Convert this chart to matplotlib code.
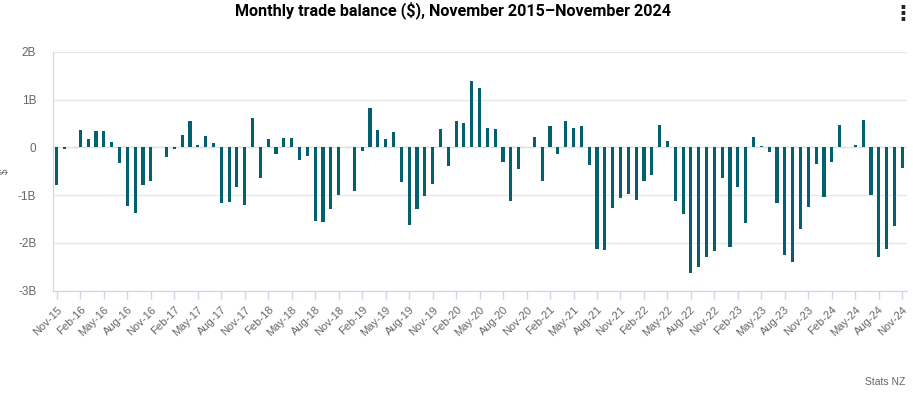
import numpy as np
import pandas as pd
import matplotlib
matplotlib.use("Agg")
import matplotlib.pyplot as plt

# monthly trade balance, $ billions, Nov 2015 - Nov 2024
balance_2015 = [-0.79, -0.03]
balance_2016 = [0.0, 0.37, 0.18, 0.34, 0.34, 0.11, -0.32, -1.23, -1.38, -0.79, -0.70, 0.0]
balance_2017 = [-0.20, -0.04, 0.26, 0.56, 0.05, 0.24, 0.09, -1.16, -1.14, -0.83, -1.21, 0.62]
balance_2018 = [-0.64, 0.18, -0.13, 0.20, 0.20, -0.26, -0.18, -1.54, -1.56, -1.29, -1.00, 0.0]
balance_2019 = [-0.91, -0.07, 0.83, 0.36, 0.18, 0.32, -0.72, -1.63, -1.29, -1.02, -0.76, 0.39]
balance_2020 = [-0.39, 0.56, 0.51, 1.38, 1.24, 0.41, 0.39, -0.30, -1.12, -0.45, 0.0, 0.22]
balance_2021 = [-0.70, 0.45, -0.15, 0.55, 0.41, 0.45, -0.36, -2.13, -2.15, -1.27, -1.06, -0.98]
balance_2022 = [-1.10, -0.70, -0.58, 0.47, 0.13, -1.12, -1.40, -2.64, -2.51, -2.30, -2.18, -0.64]
balance_2023 = [-2.09, -0.83, -1.59, 0.22, 0.03, -0.09, -1.16, -2.26, -2.41, -1.71, -1.25, -0.34]
balance_2024 = [-1.04, -0.30, 0.47, 0.0, 0.05, 0.58, -1.00, -2.30, -2.13, -1.65, -0.43]

balance = (balance_2015 + balance_2016 + balance_2017 + balance_2018 + balance_2019
           + balance_2020 + balance_2021 + balance_2022 + balance_2023 + balance_2024)
months = pd.period_range("2015-11", "2024-11", freq="M")
month_labels = [m.strftime("%b-%y") for m in months]

y_ticks = [-3, -2, -1, 0, 1, 2]
y_tick_labels = ["-3B", "-2B", "-1B", "0", "1B", "2B"]

BAR = "#03606f"
AXIS = "#ccd6eb"
GRID = "#e6e6e6"
LABEL = "#666666"

plt.rcParams['font.family'] = ['Liberation Sans', 'DejaVu Sans']

fig = plt.figure(figsize=(9.13, 3.96), dpi=100)
ax = fig.add_axes([0.058, 0.266, 0.9354, 0.6034])

x = np.arange(len(balance))
ax.bar(x, balance, width=0.4, color=BAR, zorder=3)
ax.axhline(0, color="#dddddd", lw=1, ls=(0, (4, 3)), zorder=2)

ax.set_xlim(-0.5, len(balance) - 1 + 0.6)
ax.set_ylim(-3, 2)
ax.set_yticks(y_ticks)
ax.set_yticklabels(y_tick_labels)
ax.yaxis.grid(True, color=GRID, lw=1, zorder=0)
ax.set_axisbelow(True)

ax.set_xticks(x[::3])
ax.set_xticklabels(month_labels[::3], rotation=45, ha="right", rotation_mode="anchor")

for s in ["top", "right"]:
    ax.spines[s].set_visible(False)
ax.spines["left"].set_color(AXIS)
ax.spines["bottom"].set_color(AXIS)
ax.tick_params(axis="x", colors=AXIS, length=6, width=1, labelcolor=LABEL, labelsize=8, pad=4)
ax.tick_params(axis="y", length=0, labelcolor=LABEL, labelsize=8.5, pad=12)

ax.set_ylabel("$", color=LABEL, fontsize=7)
ax.yaxis.set_label_coords(-0.05, 0.5)

fig.text(0.496, 0.975, "Monthly trade balance ($), November 2015\u2013November 2024",
         ha="center", va="center", fontsize=11.6, fontweight="bold", color="#000000",
         family=["Liberation Sans Narrow", "Roboto", "DejaVu Sans"])
fig.text(0.989, 0.968, "\u22ee", ha="center", va="center", fontsize=15, fontweight="bold",
         color="#222222", family=["DejaVu Sans"])
fig.text(0.992, 0.035, "Stats NZ", ha="right", va="center", fontsize=7.5, color=LABEL)

fig.savefig("out.png", dpi=100)
